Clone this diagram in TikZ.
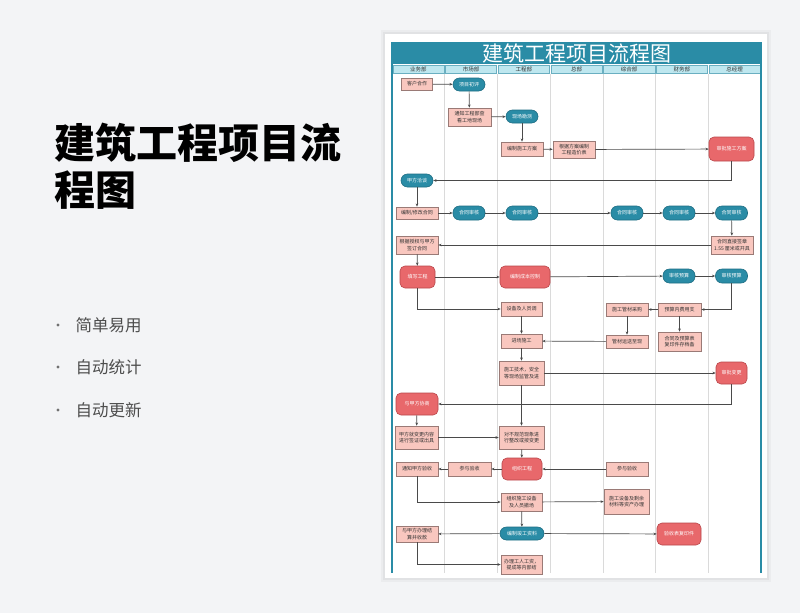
\documentclass[tikz,border=0pt]{standalone}
\usepackage{fontspec}
\setmainfont{Noto Sans CJK SC}
\usetikzlibrary{arrows.meta}
\definecolor{bgc}{HTML}{F3F4F6}
\definecolor{tealA}{HTML}{2A8CA6}
\definecolor{tealD}{HTML}{1E6E84}
\definecolor{hdr}{HTML}{BEE7EF}
\definecolor{salmon}{HTML}{F9C7BF}
\definecolor{boxline}{HTML}{9A7A76}
\definecolor{redf}{HTML}{E8686B}
\definecolor{redline}{HTML}{B9474B}
\definecolor{lineC}{HTML}{4A4A4A}
\definecolor{lane}{HTML}{DADADA}
\definecolor{txt}{HTML}{333333}
\definecolor{bul}{HTML}{4D4D4D}
\tikzset{
  base/.style={font=\fontsize{5}{6.2}\selectfont, align=center, inner sep=0pt, line width=0.6pt},
  pbox/.style={base, rectangle, draw=boxline, fill=salmon, text=txt},
  pill/.style={base, rectangle, rounded corners=6.5pt, draw=tealD, fill=tealA, text=white},
  rbox/.style={base, rectangle, rounded corners=5pt, draw=redline, fill=redf, text=white},
  sz/.style 2 args={minimum width=#1, minimum height=#2},
  conn/.style={draw=lineC, line width=0.7pt, -{Stealth[length=3.2pt,width=2.6pt]}},
  hcell/.style={rectangle, draw=tealA!70, line width=0.4pt, fill=hdr, inner sep=0pt,
    font=\fontsize{5.5}{6}\selectfont, text=txt},
  bulletdot/.style={circle, fill=bul!80, inner sep=0pt, minimum size=3.4pt},
}
\begin{document}
\begin{tikzpicture}[x=1pt,y=-1pt]
% background
\fill[bgc] (0,0) rectangle (800,613);
\useasboundingbox (0,0) rectangle (800,613);
% left texts
\node[anchor=west, inner sep=0pt, font=\fontsize{41}{41}\selectfont\bfseries, text=black] (t1) at (54,143) {建筑工程项目流};
\node[anchor=west, inner sep=0pt, font=\fontsize{41}{41}\selectfont\bfseries, text=black] (t2) at (54,190) {程图};
\foreach \yy/\tx [count=\i] in {325/简单易用, 367/自动统计, 410/自动更新}{
  \node[bulletdot] (b\i) at (58,\yy) {};
  \node[anchor=west, inner sep=0pt, font=\fontsize{16.5}{16.5}\selectfont, text=bul] (bt\i) at (75.5,\yy) {\tx};
}
% card with soft shadow
\fill[black, opacity=0.03] (381,30) rectangle (771,582);
\fill[black, opacity=0.04] (383,32) rectangle (769,580);
\fill[white] (385,34) rectangle (767,578);
% title bar
\fill[tealA] (392,42) rectangle (761,64);
\node[text=white, font=\fontsize{21}{21}\selectfont, inner sep=0pt] (title) at (576.5,53) {建筑工程项目流程图};
% header cells
\foreach \nm [count=\i from 0] in {业务部,市场部,工程部,总部,综合部,财务部,总经理}{
  \pgfmathsetmacro{\xa}{392+\i*52.714+0.8}
  \pgfmathsetmacro{\xb}{392+(\i+1)*52.714-0.8}
  \draw[hcell] (\xa,65) rectangle (\xb,73);
  \node[font=\fontsize{5.5}{6}\selectfont, text=txt, inner sep=0pt] (h\i) at ({(\xa+\xb)/2},69) {\nm};
}
% lanes
\foreach \i in {1,...,6}{
  \pgfmathsetmacro{\xl}{392+\i*52.714}
  \draw[lane, line width=0.6pt] (\xl,73.5) -- (\xl,573);
}
\draw[tealA, line width=1.3pt] (392,42) -- (392,573);
\draw[tealA, line width=1.3pt] (761,42) -- (761,573);

% nodes
\node[pbox, sz={31}{12}] (kh) at (417,84) {客户合作};
\node[pill, sz={32}{13}] (xmcp) at (469,84.5) {项目初评};
\node[pbox, sz={43}{18}] (tz) at (469.5,117) {通知工程部查\\看工地现场};
\node[pill, sz={32}{13}] (xckc) at (522,116.5) {现场勘测};
\node[pbox, sz={42}{14}] (bzsg) at (522,149) {编制施工方案};
\node[pbox, sz={42}{17}] (gjfa) at (574,149.5) {根据方案编制\\工程造价表};
\node[rbox, sz={45}{24}] (spsg) at (731.5,149) {审批施工方案};
\node[pill, sz={32}{13}] (jfqt) at (417,180.5) {甲方洽谈};
\node[pbox, sz={42}{12}] (bzht) at (417,213) {编制/修改合同};
\node[pill, sz={32}{14}] (hs1) at (469,213) {合同审核};
\node[pill, sz={32}{14}] (hs2) at (522,213) {合同审核};
\node[pill, sz={32}{14}] (hs3) at (627,213) {合同审核};
\node[pill, sz={32}{14}] (hs4) at (679,213) {合同审核};
\node[pill, sz={32}{14}] (hs5) at (731.5,213) {合同审核};
\node[pbox, sz={42}{18}] (htzj) at (732,245) {合同直接签章\\1.55 厘米或开具};
\node[pbox, sz={42}{18}] (gjsq) at (417,245) {根据授权与甲方\\签订合同};
\node[rbox, sz={35}{22}] (txgc) at (417.5,277) {填写工程};
\node[rbox, sz={50}{22}] (bzcb) at (525,277) {编制成本控制};
\node[pill, sz={32}{14}] (shys1) at (679,276) {审核预算};
\node[pill, sz={32}{14}] (shys2) at (731.5,276) {审核预算};
\node[pbox, sz={41}{14}] (sbry) at (521.5,309) {设备及人员调};
\node[pbox, sz={43}{13}] (ysnf) at (679.5,309.5) {预算内费用支};
\node[pbox, sz={42}{13}] (sggc) at (627,309.5) {施工管材采购};
\node[pbox, sz={43}{19}] (htys) at (679.5,341.5) {合同及预算表\\复印件存档备};
\node[pbox, sz={42}{13}] (gcys) at (627,341.5) {管材运送至现};
\node[pbox, sz={41}{14}] (jcsg) at (521.5,341) {进场施工};
\node[pbox, sz={45}{24}] (sgjs) at (521.5,373) {施工技术，安全\\等现场监管及进};
\node[rbox, sz={31}{22}] (spbg) at (731.5,373) {审批变更};
\node[rbox, sz={42}{22}] (yjfxs) at (417,404) {与甲方协商};
\node[pbox, sz={43}{23}] (jfbg) at (416.5,437.5) {甲方就变更内容\\进行签证或出具};
\node[pbox, sz={45}{23}] (dbgf) at (521.5,437.5) {对不规范现象进\\行整改或按变更};
\node[rbox, sz={40}{22}] (zzgc) at (522,469) {组织工程};
\node[pbox, sz={42}{14}] (cyys2) at (627,469) {参与验收};
\node[pbox, sz={43}{14}] (cyys1) at (469.5,469) {参与验收};
\node[pbox, sz={42}{14}] (tzjf) at (417,469) {通知甲方验收};
\node[pbox, sz={41}{18}] (zzsb) at (521.5,502) {组织施工设备\\及人员撤场};
\node[pbox, sz={45}{25}] (sgsb) at (626.5,501.5) {施工设备及剩余\\材料等资产办理};
\node[pill, sz={44}{13}] (bzjg) at (522,533.5) {编制竣工资料};
\node[pbox, sz={42}{16}] (yjfbl) at (417,534) {与甲方办理结\\算并收款};
\node[rbox, sz={44}{22}] (ysb) at (679,534) {验收表复印件};
\node[pbox, sz={41}{19}] (blgr) at (521.5,564.5) {办理工人工资，\\提成等内部结};

% connectors
\draw[conn] (kh) -- (xmcp);
\draw[conn] (xmcp) -- (tz);
\draw[conn] (tz) -- (xckc);
\draw[conn] (xckc) -- (bzsg);
\draw[conn] (bzsg) -- (gjfa);
\draw[conn] (gjfa) -- (spsg);
\draw[conn] (spsg.south) |- (jfqt.east);
\draw[conn] (jfqt) -- (bzht);
\draw[conn] (bzht) -- (hs1);
\draw[conn] (hs1) -- (hs2);
\draw[conn] (hs2) -- (hs3);
\draw[conn] (hs3) -- (hs4);
\draw[conn] (hs4) -- (hs5);
\draw[conn] (hs5) -- (htzj);
\draw[conn] (htzj) -- (gjsq);
\draw[conn] (gjsq) -- (txgc);
\draw[conn] (txgc) -- (bzcb);
\draw[conn] (bzcb) -- (shys1);
\draw[conn] (shys1) -- (shys2);
\draw[conn] (shys2.south) |- (ysnf.east);
\draw[conn] (ysnf) -- (sggc);
\draw[conn] (ysnf) -- (htys);
\draw[conn] (sggc) -- (gcys);
\draw[conn] (gcys) -- (jcsg);
\draw[conn] (txgc.south) |- (sbry.west);
\draw[conn] (sbry) -- (jcsg);
\draw[conn] (jcsg) -- (sgjs);
\draw[conn] (sgjs) -- (spbg);
\draw[conn] (spbg.south) |- (yjfxs.east);
\draw[conn] (yjfxs) -- (jfbg);
\draw[conn] (sgjs) -- (dbgf);
\draw[conn] (jfbg) -- (dbgf);
\draw[conn] (dbgf) -- (zzgc);
\draw[conn] (cyys2) -- (zzgc);
\draw[conn] (zzgc) -- (cyys1);
\draw[conn] (cyys1) -- (tzjf);
\draw[conn] (tzjf.south) |- (zzsb.west);
\draw[conn] (zzsb) -- (sgsb);
\draw[conn] (zzsb) -- (bzjg);
\draw[conn] (bzjg) -- (yjfbl);
\draw[conn] (bzjg) -- (ysb);
\draw[conn] (yjfbl.south) |- (blgr.west);
\end{tikzpicture}
\end{document}
